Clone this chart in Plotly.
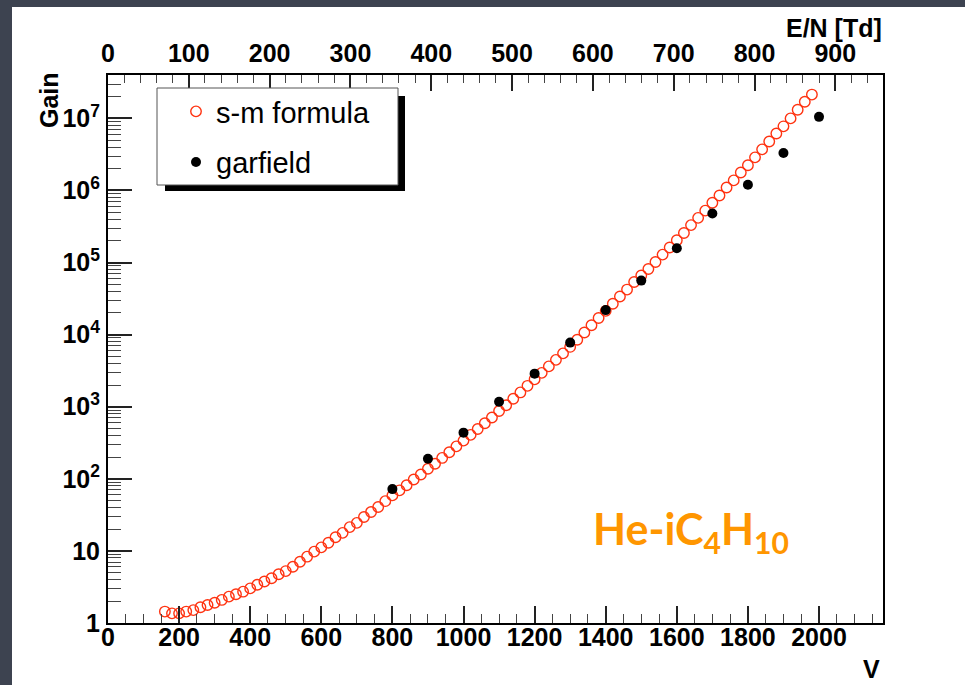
import plotly.graph_objects as go

# ---- data -------------------------------------------------------------
# s-m formula prediction, sampled every 20 V
voltage_sm = list(range(160, 2000, 20))
gain_sm = [
    1.44, 1.36, 1.36, 1.44, 1.51, 1.65, 1.78, 1.91, 2.09, 2.32,
    2.51, 2.72, 3.02, 3.39, 3.76, 4.17, 4.74, 5.25, 6.03, 7.08,
    8.32, 9.77, 11.2, 13.0, 15.5, 17.8, 21.4, 24.5, 29.5, 34.7,
    40.7, 49.0, 58.9, 69.2, 81.3, 97.7, 115, 138, 162, 195,
    234, 282, 339, 407, 490, 589, 708, 871, 1050, 1290,
    1580, 1950, 2400, 2950, 3630, 4470, 5500, 6760, 8510, 10700,
    13500, 17000, 21400, 26900, 33900, 42200, 53700, 66100, 81300, 1.02e5,
    1.29e5, 1.62e5, 2.04e5, 2.57e5, 3.31e5, 4.17e5, 5.25e5, 6.76e5, 8.51e5, 1.10e6,
    1.38e6, 1.78e6, 2.24e6, 2.88e6, 3.72e6, 4.79e6, 6.17e6, 7.76e6, 1.00e7, 1.32e7,
    1.70e7, 2.14e7,
]

# garfield simulation
voltage_gf = [800, 900, 1000, 1100, 1200, 1300, 1400, 1500, 1600, 1700, 1800, 1900, 2000]
gain_gf = [72, 190, 437, 1170, 2880, 7760, 21900, 56200, 158000, 479000, 1.20e6, 3.31e6, 1.05e7]

v_ticks = [0, 200, 400, 600, 800, 1000, 1200, 1400, 1600, 1800, 2000]
en_ticks = [0, 100, 200, 300, 400, 500, 600, 700, 800, 900]
gain_ticks = [1, 10, 1e2, 1e3, 1e4, 1e5, 1e6, 1e7]
gain_labels = ["1", "10", "10<sup>2</sup>", "10<sup>3</sup>", "10<sup>4</sup>",
               "10<sup>5</sup>", "10<sup>6</sup>", "10<sup>7</sup>"]
gain_minor = [m * 10 ** d for d in range(0, 8) for m in range(2, 10)]

V_RANGE = [0, 2180]
EN_RANGE = [0, 959]
LOG_RANGE = [0, 7.602]

# ---- page geometry ------------------------------------------------------
WIDTH, HEIGHT = 965, 685
ML, MR, MT, MB = 108, 82, 75, 62
PW = WIDTH - ML - MR
PH = HEIGHT - MT - MB


def px_x(px):
    return (px - ML) / PW


def px_y(py):
    return (HEIGHT - MB - py) / PH


BOLD = dict(family="Liberation Sans, Arial", size=25, color="black", weight="bold")
REG = dict(family="Liberation Sans, Arial", size=29, color="black")

fig = go.Figure()

fig.add_trace(go.Scatter(
    x=voltage_sm, y=gain_sm, mode="markers", name="s-m formula",
    legendgroup="a",
    marker=dict(symbol="circle-open", size=10.5, color="#ff3311",
                line=dict(width=1.4, color="#ff3311")),
))
fig.add_trace(go.Scatter(
    x=voltage_gf, y=gain_gf, mode="markers", name="garfield",
    legendgroup="b",
    marker=dict(symbol="circle", size=10, color="black"),
))
# empty trace that binds the E/N axis to the plot
fig.add_trace(go.Scatter(x=[], y=[], xaxis="x2", yaxis="y", showlegend=False,
                         hoverinfo="skip"))

fig.update_layout(
    width=WIDTH, height=HEIGHT,
    margin=dict(l=ML, r=MR, t=MT, b=MB),
    paper_bgcolor="#3d4350",
    plot_bgcolor="white",
    showlegend=True,
    legend=dict(x=px_x(176), y=px_y(86), xanchor="left", yanchor="top",
                bgcolor="rgba(0,0,0,0)", borderwidth=0, font=REG,
                tracegroupgap=10),
    xaxis=dict(
        range=V_RANGE, tickmode="array", tickvals=v_ticks,
        ticks="inside", ticklen=17, tickwidth=1.5, tickcolor="#222",
        minor=dict(dtick=50, ticks="inside", ticklen=9, tickwidth=1.3,
                   tickcolor="#444", showgrid=False),
        showline=True, linecolor="black", linewidth=2, mirror=False,
        showgrid=False, zeroline=False, tickfont=BOLD, ticklabelstandoff=-9,
    ),
    xaxis2=dict(
        overlaying="x", side="top", anchor="y",
        range=EN_RANGE, tickmode="array", tickvals=en_ticks,
        ticks="inside", ticklen=16, tickwidth=1.5, tickcolor="#222",
        minor=dict(dtick=20, ticks="inside", ticklen=8, tickwidth=1.3,
                   tickcolor="#444", showgrid=False),
        showline=True, linecolor="black", linewidth=2,
        showgrid=False, zeroline=False, tickfont=BOLD, ticklabelstandoff=1,
    ),
    yaxis=dict(
        type="log", range=LOG_RANGE, tickmode="array",
        tickvals=gain_ticks, ticktext=gain_labels,
        ticks="inside", ticklen=24, tickwidth=1.5, tickcolor="#222",
        minor=dict(tickmode="array", tickvals=gain_minor, ticks="inside",
                   ticklen=13, tickwidth=1.3, tickcolor="#444", showgrid=False),
        showline=True, linecolor="black", linewidth=2, mirror=True,
        showgrid=False, zeroline=False, tickfont=BOLD, ticklabelstandoff=1,
    ),
)

# white slide panel behind the chart
fig.add_shape(type="rect", xref="paper", yref="paper", layer="below",
              x0=px_x(12), x1=px_x(WIDTH + 5), y0=px_y(HEIGHT + 5), y1=px_y(7),
              fillcolor="white", line=dict(width=0))
# legend frame with drop shadow
fig.add_shape(type="rect", xref="paper", yref="paper", layer="above",
              x0=px_x(165), x1=px_x(405), y0=px_y(191), y1=px_y(96),
              fillcolor="black", line=dict(width=0))
fig.add_shape(type="rect", xref="paper", yref="paper", layer="above",
              x0=px_x(157), x1=px_x(398), y0=px_y(185), y1=px_y(88),
              fillcolor="white", line=dict(width=1, color="#555"))

fig.add_annotation(text="Gain", xref="paper", yref="paper",
                   x=px_x(49), y=px_y(100), textangle=-90, showarrow=False,
                   font=BOLD, xanchor="center", yanchor="middle")
fig.add_annotation(text="E/N [Td]", xref="paper", yref="paper",
                   x=px_x(884), y=px_y(28), showarrow=False,
                   font=BOLD, xanchor="right", yanchor="middle")
fig.add_annotation(text="V", xref="paper", yref="paper",
                   x=px_x(882), y=px_y(669), showarrow=False,
                   font=BOLD, xanchor="right", yanchor="middle")
fig.add_annotation(text="He-iC<sub>4</sub>H<sub>10</sub>", xref="paper", yref="paper",
                   x=px_x(591), y=px_y(531), showarrow=False,
                   font=dict(family="Lato, Noto Sans", size=43, color="#ff9600",
                             weight="bold"),
                   xanchor="left", yanchor="middle")

fig.write_html("out.html")
